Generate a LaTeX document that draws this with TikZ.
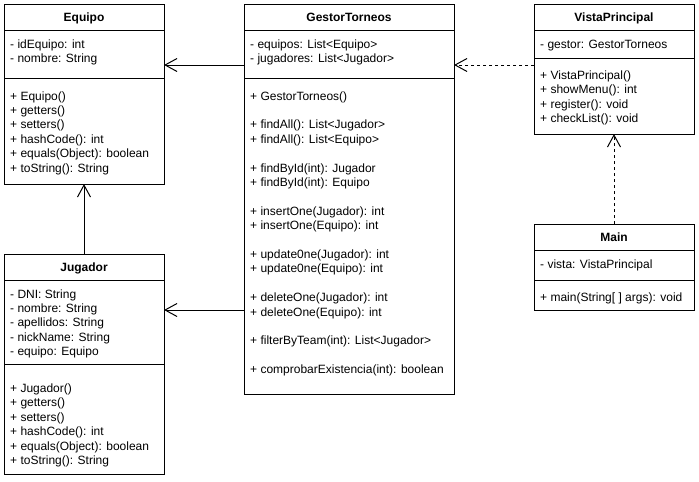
\documentclass[tikz,border=0pt]{standalone}
\usepackage{fontspec}
\setmainfont{Liberation Sans}
\usetikzlibrary{arrows.meta}

% one text line per member, stacked 14.4pt apart from a first baseline
\newcommand\umlmembers[4]{%
  \foreach \mtext [count=\i] in {#4} {
    \node[member] (#1-\i) at (#2, {#3+(\i-1)*14.4}) {\mtext};
  }%
}

\begin{document}
\begin{tikzpicture}[x=1pt, y=-1pt,
  compart/.style={draw=black, line width=1pt, rectangle, anchor=north west,
    inner sep=0pt, outer sep=0pt, fill=white},
  member/.style={anchor=base west, inner sep=0pt,
    font=\fontsize{12}{14.4}\selectfont, text=black},
  title/.style={anchor=base, inner sep=0pt,
    font=\fontsize{12}{14.4}\selectfont\bfseries, text=black},
  assoc/.style={draw=black, line width=1pt,
    -{Straight Barb[length=12pt, width=13pt]}},
  depend/.style={assoc, dash pattern=on 3pt off 3pt},
]
\useasboundingbox (0,0) rectangle (699,482);
\fill[white] (0,0) rectangle (699,482);

% ---- Equipo
\node[compart, minimum width=160pt, minimum height=26pt] (eqH) at (4,4) {};
\node[compart, minimum width=160pt, minimum height=48pt] (eqA) at (4,30) {};
\node[compart, minimum width=160pt, minimum height=106pt] (eqM) at (4,78) {};
\node[title] (eqT) at (84,21.5) {Equipo};
\umlmembers{eqa}{10}{48}{- idEquipo: int, - nombre: String}
\umlmembers{eqm}{10}{100}{+ Equipo(), + getters(), + setters(),
  + hashCode(): int, + equals(Object): boolean, + toString(): String}

% ---- GestorTorneos
\node[compart, minimum width=210pt, minimum height=26pt] (gtH) at (244,4) {};
\node[compart, minimum width=210pt, minimum height=48pt] (gtA) at (244,30) {};
\node[compart, minimum width=210pt, minimum height=316pt] (gtM) at (244,78) {};
\node[title] (gtT) at (349,21.5) {GestorTorneos};
\umlmembers{gta}{250}{48}{- equipos: List<Equipo>, - jugadores: List<Jugador>}
\umlmembers{gtm}{250}{100}{+ GestorTorneos(), ,
  + findAll(): List<Jugador>, + findAll(): List<Equipo>, ,
  + findById(int): Jugador, + findById(int): Equipo, ,
  + insertOne(Jugador): int, + insertOne(Equipo): int, ,
  + update0ne(Jugador): int, + update0ne(Equipo): int, ,
  + deleteOne(Jugador): int, + deleteOne(Equipo): int, ,
  + filterByTeam(int): List<Jugador>, ,
  + comprobarExistencia(int): boolean}

% ---- VistaPrincipal
\node[compart, minimum width=160pt, minimum height=26pt] (vsH) at (534,4) {};
\node[compart, minimum width=160pt, minimum height=28pt] (vsA) at (534,30) {};
\node[compart, minimum width=160pt, minimum height=76pt] (vsM) at (534,58) {};
\node[title] (vsT) at (614,21.5) {VistaPrincipal};
\umlmembers{vsa}{540}{48}{- gestor: GestorTorneos}
\umlmembers{vsm}{540}{79.5}{+ VistaPrincipal(), + showMenu(): int,
  + register(): void, + checkList(): void}

% ---- Main
\node[compart, minimum width=160pt, minimum height=26pt] (mnH) at (534,224) {};
\node[compart, minimum width=160pt, minimum height=30pt] (mnA) at (534,250) {};
\node[compart, minimum width=160pt, minimum height=30pt] (mnM) at (534,280) {};
\node[title] (mnT) at (614,241.5) {Main};
\umlmembers{mna}{540}{268}{- vista: VistaPrincipal}
\umlmembers{mnm}{540}{301}{+ main(String[ ] args): void}

% ---- Jugador (attribute list is cut off by its compartment)
\node[compart, minimum width=160pt, minimum height=26pt] (jgH) at (4,254) {};
\node[compart, minimum width=160pt, minimum height=84pt] (jgA) at (4,280) {};
\node[compart, minimum width=160pt, minimum height=110pt] (jgM) at (4,364) {};
\node[title] (jgT) at (84,271.5) {Jugador};
\begin{scope}
  \clip (4,280) rectangle (164,357.2);
  \umlmembers{jga}{10}{298}{- DNI: String, - nombre: String,
    - apellidos: String, - nickName: String, - equipo: Equipo}
\end{scope}
\umlmembers{jgm}{10}{392.5}{+ Jugador(), + getters(), + setters(),
  + hashCode(): int, + equals(Object): boolean, + toString(): String}

% ---- relations
\coordinate (rowA) at (0,65);
\coordinate (rowB) at (0,310);
\draw[assoc] (gtA.west |- rowA) -- (eqA.east |- rowA);
\draw[assoc] (gtM.west |- rowB) -- (jgA.east |- rowB);
\draw[assoc] (jgH.north) -- (eqM.south);
\draw[depend] (vsM.west |- rowA) -- (gtA.east |- rowA);
\draw[depend] (mnH.north) -- (vsM.south);
\end{tikzpicture}
\end{document}
